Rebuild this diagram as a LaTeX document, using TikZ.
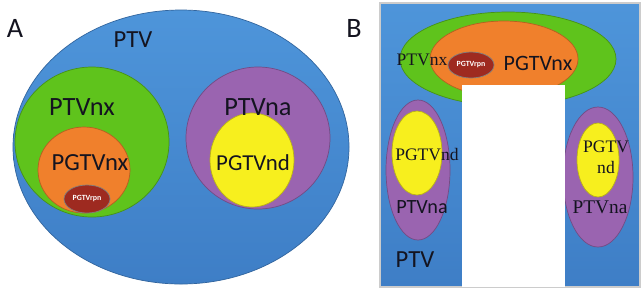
\documentclass[tikz,border=0pt]{standalone}
\usepackage{fontspec}
\setmainfont{Liberation Serif}
\setsansfont{Carlito}
\usetikzlibrary{positioning}

\definecolor{ptvtop}{HTML}{4E95DA}
\definecolor{ptvbot}{HTML}{3E7EC6}
\definecolor{nxgreen}{HTML}{5FC31C}
\definecolor{nxorange}{HTML}{F0802C}
\definecolor{rpnred}{HTML}{9E2A20}
\definecolor{napurple}{HTML}{9A64B0}
\definecolor{ndyellow}{HTML}{F7EF1E}
\definecolor{textdark}{HTML}{141420}

\begin{document}
\begin{tikzpicture}[
    x=0.02cm, y=-0.02cm,
    region/.style={fill=#1, draw=#1!75!black, line width=0.4pt},
    sans/.style={font=\sffamily\fontsize{#1}{#1}\selectfont, text=textdark, inner sep=0pt},
    serif/.style={font=\rmfamily\fontsize{#1}{#1}\selectfont, text=textdark, inner sep=0pt}
  ]
    \useasboundingbox[fill=white] (0,0) rectangle (644,289);

    % panel A
    \shade[top color=ptvtop, bottom color=ptvbot, draw=ptvbot!80!black, line width=0.4pt] (181,147) ellipse (168 and 137);
    \draw[region=nxgreen] (92,142) ellipse (77 and 75);
    \draw[region=nxorange] (84,170) ellipse (46 and 43);
    \draw[region=rpnred, draw=gray] (87,199) ellipse (23 and 14);
    \draw[region=napurple] (258,138) ellipse (72 and 71);
    \draw[region=ndyellow] (252,160) ellipse (42 and 47);

    \node[sans=16] (labA) at (15,28) {A};
    \node[sans=14] (ptvA) at (133,40) {PTV};
    \node[sans=15] (ptvnxA) at (82,107) {PTVnx};
    \node[sans=14] (pgtvnxA) at (90,163) {PGTVnx};
    \node[sans=4.5, text=white] (pgtvrpnA) at (87,199) {\bfseries PGTVrpn};
    \node[sans=15] (ptvnaA) at (258,107) {PTVna};
    \node[sans=13] (pgtvndA) at (253,163) {PGTVnd};

    % panel B
    \node[sans=16] (labB) at (354,28) {B};
    \shade[top color=ptvtop, bottom color=ptvbot, draw=gray!40, line width=0.6pt] (380,3) rectangle (640,287);
    \draw[region=nxgreen] (508,59) ellipse (108 and 47);
    \draw[region=nxorange] (504,59) ellipse (74 and 38);
    \draw[region=rpnred, draw=gray] (471,65) ellipse (23 and 13);
    \draw[region=napurple] (418,170) ellipse (32 and 70);
    \draw[region=ndyellow] (417,153) ellipse (25 and 42);
    \draw[region=napurple] (598,177) ellipse (35 and 70);
    \draw[region=ndyellow] (598,160) ellipse (21 and 37);
    \fill[white] (462,85) rectangle (565,287);

    \node[serif=10] (ptvnxB) at (422,60) {PTVnx};
    \node[sans=4.5, text=white] (pgtvrpnB) at (471,65) {\bfseries PGTVrpn};
    \node[sans=12.5] (pgtvnxB) at (538,63) {PGTVnx};
    \node[serif=10] (pgtvndB) at (427,155) {PGTVnd};
    \node[sans=11.5] (ptvnaB) at (422,207) {PTVna};
    \node[serif=10, align=center] (pgtvndC) at (606,157) {PGTV\\[2pt]nd};
    \node[serif=11] (ptvnaC) at (600,207) {PTVna};
    \node[sans=14] (ptvB) at (415,260) {PTV};
\end{tikzpicture}
\end{document}
